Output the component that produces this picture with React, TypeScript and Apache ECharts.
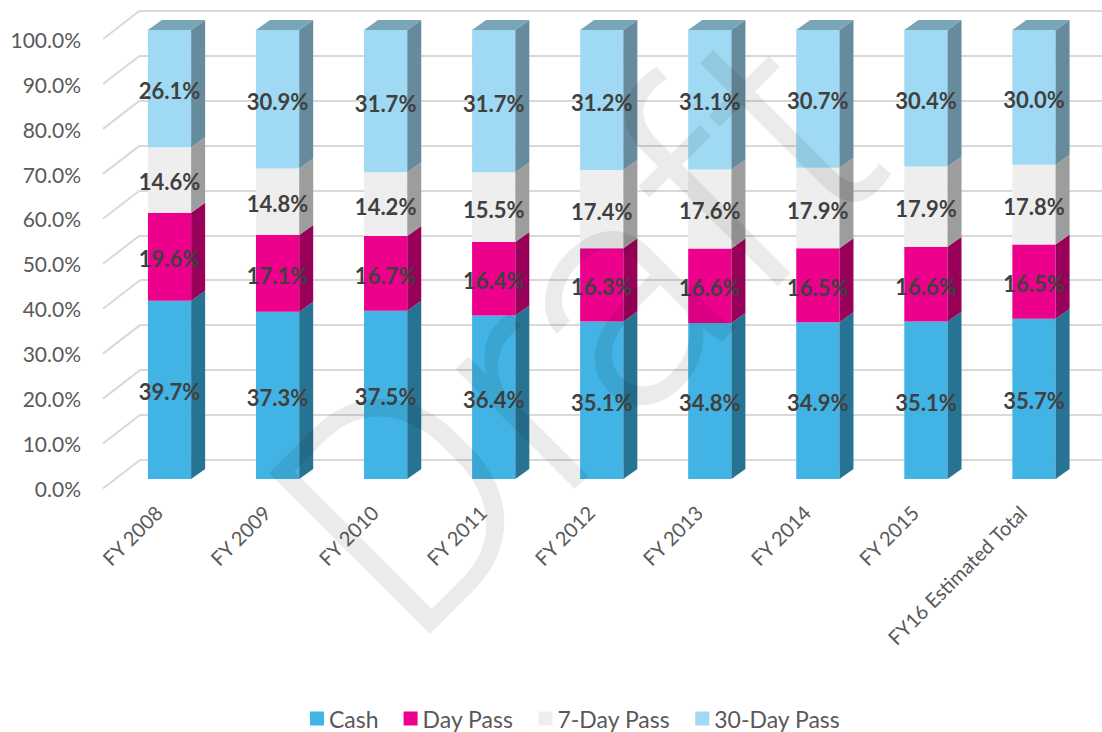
import React, { useEffect, useRef } from "react";
import * as echarts from "echarts";

const categories = [
  "FY 2008",
  "FY 2009",
  "FY 2010",
  "FY 2011",
  "FY 2012",
  "FY 2013",
  "FY 2014",
  "FY 2015",
  "FY16 Estimated Total",
];
const seriesNames = ["Cash", "Day Pass", "7-Day Pass", "30-Day Pass"];
const cash = [39.7, 37.3, 37.5, 36.4, 35.1, 34.8, 34.9, 35.1, 35.7];
const dayPass = [19.6, 17.1, 16.7, 16.4, 16.3, 16.6, 16.5, 16.6, 16.5];
const sevenDayPass = [14.6, 14.8, 14.2, 15.5, 17.4, 17.6, 17.9, 17.9, 17.8];
const thirtyDayPass = [26.1, 30.9, 31.7, 31.7, 31.2, 31.1, 30.7, 30.4, 30.0];
const yTicks = [0, 0.1, 0.2, 0.3, 0.4, 0.5, 0.6, 0.7, 0.8, 0.9, 1.0];

const frontColors = ["#41b3e4", "#ec008c", "#eeeeee", "#9fd9f3"];
const sideColors = ["#277394", "#990059", "#9d9d9d", "#668b9c"];
const topColor = "#79a5b8";

const FONT = "Lato, 'Noto Sans', sans-serif";
const DEPTH_X = 14;
const DEPTH_Y = -10;

export default function App() {
  const ref = useRef<HTMLDivElement>(null);

  useEffect(() => {
    if (!ref.current) return;
    const chart = echarts.init(ref.current, null, { renderer: "svg" });

    const all = [cash, dayPass, sevenDayPass, thirtyDayPass];
    const totals = categories.map((_, i) => all.reduce((s, arr) => s + arr[i], 0));
    const cum = categories.map(() => 0);
    const seriesData = all.map((arr) =>
      arr.map((v, i) => {
        const start = cum[i] / totals[i];
        cum[i] += v;
        const end = cum[i] / totals[i];
        return [i, start, end, v];
      })
    );

    const barSeries = seriesNames.map((name, k) => ({
      type: "custom",
      name,
      xAxisIndex: 0,
      yAxisIndex: 0,
      itemStyle: { color: frontColors[k] },
      data: seriesData[k],
      renderItem: (params: any, api: any) => {
        const i = api.value(0);
        const s = api.value(1);
        const e = api.value(2);
        const v = api.value(3);
        const pb = api.coord([i, s]);
        const pt = api.coord([i, e]);
        const w = api.size([1, 0])[0] * 0.4;
        const xl = pb[0] - w / 2;
        const xr = pb[0] + w / 2;
        const children: any[] = [
          {
            type: "rect",
            shape: { x: xl, y: pt[1], width: w, height: pb[1] - pt[1] },
            style: { fill: frontColors[k] },
          },
          {
            type: "polygon",
            shape: {
              points: [
                [xr, pb[1]],
                [xr, pt[1]],
                [xr + DEPTH_X, pt[1] + DEPTH_Y],
                [xr + DEPTH_X, pb[1] + DEPTH_Y],
              ],
            },
            style: { fill: sideColors[k] },
          },
        ];
        if (k === seriesNames.length - 1) {
          children.push({
            type: "polygon",
            shape: {
              points: [
                [xl, pt[1]],
                [xr, pt[1]],
                [xr + DEPTH_X, pt[1] + DEPTH_Y],
                [xl + DEPTH_X, pt[1] + DEPTH_Y],
              ],
            },
            style: { fill: topColor },
          });
        }
        children.push({
          type: "text",
          z2: 100,
          x: pb[0],
          y: (pb[1] + pt[1]) / 2 + 2,
          style: {
            text: v.toFixed(1) + "%",
            align: "center",
            verticalAlign: "middle",
            fontFamily: FONT,
            fontWeight: "bold",
            fontSize: 22,
            fill: "#404040",
          },
        });
        return { type: "group", children };
      },
    }));

    const slantSeries = {
      type: "custom",
      name: "grid-slant",
      xAxisIndex: 1,
      yAxisIndex: 1,
      silent: true,
      z: 1,
      data: yTicks.map((t) => [0, t]),
      renderItem: (params: any, api: any) => {
        const p = api.coord([0, api.value(1)]);
        return {
          type: "line",
          shape: { x1: p[0] - 37, y1: p[1] + 28.5, x2: p[0], y2: p[1] },
          style: { stroke: "#d9d9d9", lineWidth: 2 },
        };
      },
    };

    chart.setOption({
      animation: false,
      grid: [
        { left: 115.5, width: 972.5, top: 30, height: 449 },
        { left: 140, right: 0, top: 10.5, height: 449.5 },
        { left: 103, width: 10, top: 39.5, height: 448.5 },
        { left: 104.5, width: 972.5, top: 30, height: 449 },
      ],
      xAxis: [
        {
          gridIndex: 0,
          type: "category",
          data: categories,
          show: false,
        },
        { gridIndex: 1, type: "value", min: 0, max: 1, show: false },
        { gridIndex: 2, type: "value", min: 0, max: 1, show: false },
        {
          gridIndex: 3,
          type: "category",
          data: categories,
          axisLine: { show: false },
          axisTick: { show: false },
          splitLine: { show: false },
          axisLabel: {
            rotate: 45,
            margin: 30,
            interval: 0,
            color: "#595959",
            fontFamily: FONT,
            fontSize: 20,
          },
        },
      ],
      yAxis: [
        { gridIndex: 0, type: "value", min: 0, max: 1, show: false },
        {
          gridIndex: 1,
          type: "value",
          min: 0,
          max: 1,
          interval: 0.1,
          axisLine: { show: false },
          axisTick: { show: false },
          axisLabel: { show: false },
          splitLine: { show: true, lineStyle: { color: "#d9d9d9", width: 2 } },
        },
        {
          gridIndex: 2,
          type: "value",
          min: 0,
          max: 1,
          interval: 0.1,
          axisLine: { show: false },
          axisTick: { show: false },
          splitLine: { show: false },
          axisLabel: {
            margin: 22,
            color: "#595959",
            fontFamily: FONT,
            fontSize: 21,
            formatter: (v: number) => (v * 100).toFixed(1) + "%",
          },
        },
        { gridIndex: 3, type: "value", min: 0, max: 1, show: false },
      ],
      legend: {
        data: seriesNames,
        left: 305,
        top: 702,
        icon: "rect",
        itemWidth: 14,
        itemHeight: 14,
        itemGap: 25,
        textStyle: { color: "#595959", fontFamily: FONT, fontSize: 23 },
      },
      graphic: [
        {
          type: "text",
          x: 332,
          y: 577,
          rotation: Math.PI / 4,
          z: 100,
          silent: true,
          style: {
            text: "Draft",
            font: "300 320px Roboto",
            fill: "rgba(0,0,0,0.08)",
            align: "left",
            verticalAlign: "middle",
          },
        },
      ],
      series: [slantSeries, ...barSeries],
    });

    return () => chart.dispose();
  }, []);

  return (
    <div
      ref={ref}
      style={{ position: "fixed", left: 0, top: 0, width: 1102, height: 732, background: "#fff" }}
    />
  );
}
